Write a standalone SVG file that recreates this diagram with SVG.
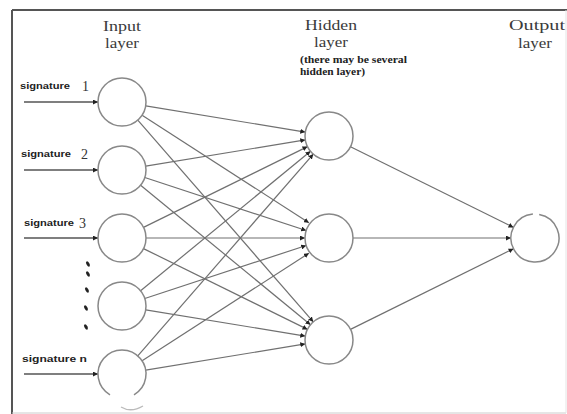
<svg xmlns="http://www.w3.org/2000/svg" width="567" height="414" viewBox="0 0 567 414">
<style>
.title{font-family:"Liberation Serif","DejaVu Serif",serif;font-size:15px;fill:#3a3a3a;text-anchor:middle}
.note{font-family:"Liberation Serif","DejaVu Serif",serif;font-size:10px;font-weight:bold;fill:#222}
.sig{font-family:"Liberation Sans","DejaVu Sans",sans-serif;font-size:9px;font-weight:bold;fill:#222}
.num{font-family:"Liberation Serif","DejaVu Serif",serif;font-size:14px;fill:#333}
.node{fill:#fff;stroke:#888;stroke-width:1.5}
.edge{stroke:#707070;stroke-width:1.2;fill:none;marker-end:url(#ah)}
.in{stroke:#555;stroke-width:1.3;fill:none;marker-end:url(#ah)}
</style>
<defs>
<marker id="ah" viewBox="0 0 6 6" refX="6" refY="3" markerWidth="5" markerHeight="5" markerUnits="userSpaceOnUse" orient="auto">
<path d="M0,0 L6,3 L0,6 z" fill="#222"/>
</marker>
</defs>
<rect width="567" height="414" fill="#fff"/>
<g id="frame">
<line x1="12" y1="10" x2="567" y2="10" stroke="#555" stroke-width="2"/>
<line x1="12" y1="10" x2="12" y2="414" stroke="#555" stroke-width="2"/>
<line x1="12" y1="413" x2="566" y2="413" stroke="#ccc" stroke-width="1"/>
<line x1="566" y1="10" x2="566" y2="413" stroke="#e4e4e4" stroke-width="1"/>
</g>
<g id="titles">
<text class="title" x="122" y="31" textLength="38" lengthAdjust="spacingAndGlyphs">Input</text>
<text class="title" x="122" y="48" textLength="34" lengthAdjust="spacingAndGlyphs">layer</text>
<text class="title" x="331" y="30" textLength="52" lengthAdjust="spacingAndGlyphs">Hidden</text>
<text class="title" x="331" y="47" textLength="34" lengthAdjust="spacingAndGlyphs">layer</text>
<text class="note" x="300" y="63" textLength="107" lengthAdjust="spacingAndGlyphs">(there may be several</text>
<text class="note" x="300" y="75" textLength="65" lengthAdjust="spacingAndGlyphs">hidden layer)</text>
<text class="title" x="537" y="30" textLength="56" lengthAdjust="spacingAndGlyphs">Output</text>
<text class="title" x="535" y="48" textLength="34" lengthAdjust="spacingAndGlyphs">layer</text>
</g>
<g id="connectors">
<line class="in" x1="24" y1="102" x2="98" y2="102"/>
<line class="in" x1="24" y1="170" x2="98" y2="170"/>
<line class="in" x1="24" y1="238" x2="98" y2="238"/>
<line class="in" x1="24" y1="374" x2="98" y2="374"/>
<line class="edge" x1="145.7" y1="105.9" x2="305.3" y2="132.1"/>
<line class="edge" x1="142.1" y1="115.2" x2="308.9" y2="222.8"/>
<line class="edge" x1="137.8" y1="120.1" x2="313.3" y2="321.9"/>
<line class="edge" x1="145.7" y1="166.1" x2="305.3" y2="139.9"/>
<line class="edge" x1="144.8" y1="177.5" x2="306.2" y2="230.5"/>
<line class="edge" x1="140.6" y1="185.2" x2="310.5" y2="324.8"/>
<line class="edge" x1="143.5" y1="227.4" x2="307.5" y2="146.6"/>
<line class="edge" x1="146" y1="238" x2="305" y2="238"/>
<line class="edge" x1="143.5" y1="248.6" x2="307.5" y2="329.4"/>
<line class="edge" x1="140.6" y1="290.8" x2="310.5" y2="151.2"/>
<line class="edge" x1="144.8" y1="298.5" x2="306.2" y2="245.5"/>
<line class="edge" x1="145.7" y1="309.9" x2="305.3" y2="336.1"/>
<line class="edge" x1="137.8" y1="355.9" x2="313.3" y2="154.1"/>
<line class="edge" x1="142.1" y1="360.8" x2="308.9" y2="253.2"/>
<line class="edge" x1="145.7" y1="370.1" x2="305.3" y2="343.9"/>
<line class="edge" x1="350.5" y1="146.7" x2="513.5" y2="227.4"/>
<line class="edge" x1="353" y1="238" x2="511" y2="238"/>
<line class="edge" x1="350.5" y1="329.4" x2="513.5" y2="248.7"/>
</g>
<g id="in1"><circle class="node" cx="122" cy="102" r="24"/><text class="sig" x="20" y="89" textLength="50" lengthAdjust="spacingAndGlyphs">signature</text><text class="num" x="82" y="91">1</text></g>
<g id="in2"><circle class="node" cx="122" cy="170" r="24"/><text class="sig" x="21" y="157" textLength="50" lengthAdjust="spacingAndGlyphs">signature</text><text class="num" x="81" y="159">2</text></g>
<g id="in3"><circle class="node" cx="122" cy="238" r="24"/><text class="sig" x="24" y="226" textLength="50" lengthAdjust="spacingAndGlyphs">signature</text><text class="num" x="79" y="228">3</text></g>
<g id="in4"><circle class="node" cx="122" cy="306" r="24"/></g>
<g id="dots" fill="#222">
<ellipse cx="88" cy="264" rx="1.5" ry="3" transform="rotate(-30 88 264)"/>
<ellipse cx="88" cy="274" rx="1.5" ry="3" transform="rotate(-30 88 274)"/>
<ellipse cx="87" cy="290" rx="1.5" ry="3" transform="rotate(-30 87 290)"/>
<ellipse cx="86" cy="308" rx="1.5" ry="3" transform="rotate(-30 86 308)"/>
<ellipse cx="86" cy="327" rx="1.5" ry="3" transform="rotate(-30 86 327)"/>
</g>
<g id="inN"><path class="node" d="M110,394.8 A24,24 0 1 1 134,394.8"/><path d="M121,407 Q131,413 143,406" fill="none" stroke="#bbb" stroke-width="1.3"/><text class="sig" x="22" y="362" textLength="65" lengthAdjust="spacingAndGlyphs">signature n</text></g>
<g id="h1"><circle class="node" cx="329" cy="136" r="24"/></g>
<g id="h2"><circle class="node" cx="329" cy="238" r="24"/></g>
<g id="h3"><circle class="node" cx="329" cy="340" r="24"/></g>
<g id="out"><path class="node" d="M539.2,214.4 A24,24 0 1 1 532.9,214.1"/></g>
</svg>
